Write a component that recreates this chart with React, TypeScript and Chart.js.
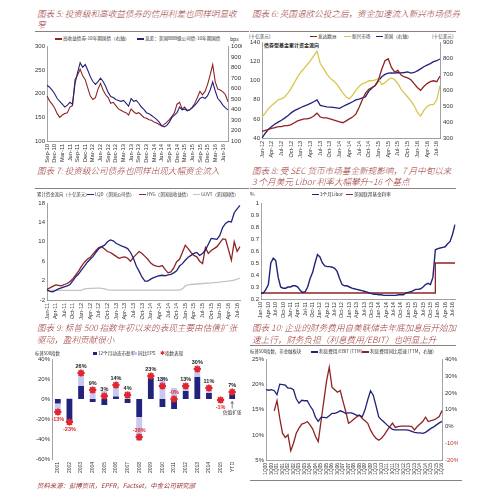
import React, { useEffect, useRef } from 'react';
import { Chart, registerables } from 'chart.js';

Chart.register(...registerables);

// ---------------- label helpers ----------------
const MONTHS = ['Jan', 'Feb', 'Mar', 'Apr', 'May', 'Jun', 'Jul', 'Aug', 'Sep', 'Oct', 'Nov', 'Dec'];
function monthLabels(y0: number, m0: number, n: number): string[] {
  const out: string[] = [];
  for (let i = 0; i < n; i++) {
    const m = m0 + i;
    const y = y0 + Math.floor(m / 12);
    out.push(`${MONTHS[m % 12]}-${String(y % 100).padStart(2, '0')}`);
  }
  return out;
}
function quarterLabels(y0: number, n: number): string[] {
  const out: string[] = [];
  for (let i = 0; i < n; i++) {
    const y = y0 + Math.floor(i / 4);
    out.push(`${(i % 4) + 1}Q${String(y % 100).padStart(2, '0')}`);
  }
  return out;
}

// ---------------- Chart 5 data ----------------
const c5Labels = monthLabels(2010, 8, 72);
const c5BBB = [
  218, 214, 208, 200,
  190, 184, 178, 172, 176, 182, 178, 222, 245, 266, 256, 262,
  250, 236, 226, 220, 226, 233, 226, 216, 203, 194, 192, 188,
  186, 184, 186, 180, 174, 190, 184, 186, 180, 172, 167, 160,
  158, 154, 150, 146, 140, 132, 130, 133, 140, 150, 155, 160,
  172, 166, 168, 164, 166, 170, 176, 182, 190, 193, 190, 196,
  208, 225, 206, 190, 184, 176, 170, 166,
];
const c5HY = [
  528, 483, 451, 415,
  361, 325, 348, 361, 370, 424, 438, 685, 730, 784, 721, 685,
  604, 528, 496, 514, 595, 649, 586, 541, 514, 460, 469, 438,
  406, 393, 379, 370, 348, 406, 379, 361, 370, 348, 325, 316,
  303, 298, 280, 271, 258, 244, 258, 280, 303, 334, 370, 451,
  469, 406, 424, 393, 397, 424, 460, 514, 573, 541, 573, 640,
  730, 829, 663, 595, 586, 568, 541, 474,
];

// ---------------- Chart 6 data ----------------
const c6Labels = monthLabels(2012, 0, 56);
const c6Europe = [
  47, 48, 49, 50, 51, 52, 52, 53, 53, 54, 56, 58,
  59, 60, 60, 61, 63, 66, 62, 61, 61, 60, 59, 58,
  57, 56, 58, 60, 62, 65, 72, 80, 87, 91, 93, 95,
  101, 112, 121, 123, 114, 109, 111, 106, 104, 103, 101, 97,
  93, 90, 94, 97, 99, 100, 99, 105,
];
const c6EM = [
  62, 66, 71, 74, 77, 80, 81, 83, 87, 92, 98, 104,
  109, 113, 117, 121, 126, 131, 118, 113, 107, 103, 100, 97,
  92, 87, 83, 81, 85, 90, 94, 97, 98, 100, 100, 101,
  102, 96, 98, 101, 103, 101, 97, 91, 87, 83, 79, 74,
  67, 63, 69, 73, 75, 75, 80, 95,
];
const c6US = [
  300, 330, 355, 372, 388, 400, 412, 425, 440, 458, 472, 482,
  492, 500, 508, 518, 528, 540, 505, 500, 496, 494, 492, 490,
  486, 498, 508, 518, 528, 540, 545, 552, 560, 595, 615, 632,
  660, 685, 700, 708, 710, 708, 712, 710, 712, 716, 708, 712,
  722, 735, 748, 758, 768, 780, 786, 797,
];

// ---------------- Chart 7 data ----------------
const c7Labels = monthLabels(2011, 0, 68);
const c7LQD = [
  0.1, -0.2, -0.3, 0.0, 0.3, 0.5, 0.7, 0.9, 1.2, 2.0, 2.8, 3.4,
  4.2, 5.0, 5.8, 6.4, 7.0, 7.8, 8.6, 9.0, 9.3, 10.0, 10.4, 10.2,
  9.7, 9.4, 9.1, 8.9, 8.6, 7.8, 6.6, 5.0, 3.9, 2.7, 1.9, 1.9,
  2.3, 2.6, 2.8, 3.0, 3.1, 3.0, 3.2, 3.3, 3.6, 4.0, 5.0, 5.5,
  6.2, 6.8, 7.2, 7.6, 7.8, 7.2, 7.6, 8.3, 9.5, 10.7, 10.6, 10.5,
  11.3, 13.0, 13.8, 14.2, 14.1, 16.0, 16.8, 17.5,
];
const c7HYG = [
  0.2, 0.5, 0.8, 1.1, 1.0, 0.9, 1.2, 1.4, 1.8, 2.4, 3.2, 4.0,
  5.0, 5.8, 6.4, 6.8, 7.5, 8.2, 8.8, 9.0, 8.5, 8.0, 7.8, 7.4,
  7.0, 6.6, 6.8, 6.9, 6.6, 6.0, 6.8, 7.4, 8.0, 7.6, 7.0, 6.4,
  5.6, 5.2, 5.0, 4.9, 5.1, 4.3, 3.6, 3.8, 4.6, 5.9, 6.4, 7.8,
  9.3, 8.6, 7.8, 7.2, 6.9, 6.0, 5.5, 8.8, 7.6, 8.2, 8.6, 9.0,
  9.8, 10.6, 10.5, 8.4, 6.2, 10.0, 8.0, 9.0,
];
const c7GOVT = [
  0, 0, 0, 0, 0, 0, 0, 0, 0, 0, 0, 0,
  0, 0.3, 0.35, 0.4, 0.4, 0.45, 0.45, 0.4, 0.3, 0.1, 0.05, 0.05,
  0.05, 0.05, 0.05, 0.05, 0.05, 0.05, 0.05, 0.05, 0.05, 0.05, 0.05, 0.05,
  0.05, 0.05, 0.05, 0.05, 0.05, 0.05, 0.05, 0.05, 0.05, 0.05, 0.05, 0.3,
  0.9, 1.1, 1.2, 1.25, 1.3, 1.35, 1.4, 1.45, 1.5, 1.55, 1.6, 1.65,
  1.7, 1.8, 1.85, 1.9, 2.0, 2.1, 2.3, 2.5,
];

// ---------------- Chart 8 data ----------------
const c8Labels = monthLabels(2010, 0, 80);
const c8Libor = [
  0.25, 0.25, 0.28, 0.32, 0.50, 0.54, 0.52, 0.38, 0.30, 0.29, 0.29, 0.30,
  0.30, 0.31, 0.31, 0.30, 0.27, 0.255, 0.26, 0.30, 0.37, 0.42, 0.50, 0.57,
  0.55, 0.50, 0.475, 0.47, 0.47, 0.465, 0.455, 0.43, 0.37, 0.32, 0.31, 0.31,
  0.30, 0.29, 0.285, 0.28, 0.275, 0.27, 0.265, 0.26, 0.25, 0.245, 0.24, 0.24,
  0.235, 0.235, 0.23, 0.23, 0.23, 0.23, 0.23, 0.23, 0.235, 0.235, 0.235, 0.25,
  0.255, 0.26, 0.27, 0.28, 0.28, 0.285, 0.30, 0.32, 0.33, 0.32, 0.38, 0.61,
  0.62, 0.625, 0.63, 0.635, 0.66, 0.68, 0.74, 0.82,
];
const c8FedFunds = [
  0.25, 0.25, 0.25, 0.25, 0.25, 0.25, 0.25, 0.25, 0.25, 0.25, 0.25, 0.25,
  0.25, 0.25, 0.25, 0.25, 0.25, 0.25, 0.25, 0.25, 0.25, 0.25, 0.25, 0.25,
  0.25, 0.25, 0.25, 0.25, 0.25, 0.25, 0.25, 0.25, 0.25, 0.25, 0.25, 0.25,
  0.25, 0.25, 0.25, 0.25, 0.25, 0.25, 0.25, 0.25, 0.25, 0.25, 0.25, 0.25,
  0.25, 0.25, 0.25, 0.25, 0.25, 0.25, 0.25, 0.25, 0.25, 0.25, 0.25, 0.25,
  0.25, 0.25, 0.25, 0.25, 0.25, 0.25, 0.25, 0.25, 0.25, 0.25, 0.25, 0.5,
  0.5, 0.5, 0.5, 0.5, 0.5, 0.5, 0.5, 0.5,
];

// ---------------- Chart 9 data ----------------
const c9Years = ['2001', '2002', '2003', '2004', '2005', '2006', '2007', '2008', '2009', '2010', '2011', '2012', '2013', '2014', '2015', 'YTD'];
const c9PE = [-4.5, -22.5, 13, -3, -6, 2.5, -4, -18, 21, -8, -10, 8, 22, 6, -1, 5];
const c9EPS = [-8, 1, 13, 12, 8, 11, 7.5, -24, 2, 22, 11, 4, 5, 3, 0, 2];
const c9Index = [-13, -23, 26, 9, 3, 14, 4, -38, 23, 13, 0, 13, 30, 11, -1, 7];
const c9IndexLabels = ['-13%', '-23%', '26%', '9%', '3%', '14%', '4%', '-38%', '23%', '13%', '-0%', '13%', '30%', '11%', '-1%', '7%'];
const c9LabelAbove = [false, false, true, true, true, true, true, true, true, true, true, true, true, true, false, true];

// ---------------- Chart 10 data ----------------
const c10Labels = quarterLabels(2000, 65);
const c10InterestEBIT = [
  19.0, 18.9, 19.0, 18.8, 18.0, 20.1, 20.0, 19.9,
  19.3, 19.3, 19.0, 17.2, 16.3, 16.9, 16.8, 16.8,
  15.8, 15.0, 13.5, 12.7, 13.5, 13.5, 13.4, 13.8,
  14.3, 14.3, 14.5, 14.8, 14.6, 14.3, 14.4, 14.4,
  14.2, 13.9, 13.9, 13.6, 15.0, 17.0, 18.8, 17.9,
  15.8, 13.6, 13.0, 12.5, 12.0, 11.5, 11.1, 11.0,
  11.0, 11.0, 11.0, 11.0, 10.9, 10.7, 10.5, 10.4,
  10.4, 10.3, 10.5, 10.9, 11.3, 11.6, 12.0, 12.4,
  12.7,
];
const c10InterestGrowth = [
  null, null, null, 9.4, 15.5, 5, -4, -6.5,
  -5, -14.5, -10, -4, -1, 1.5, 2, 3,
  1, -1.5, -6, -9, 3, 15, 27, 35.5,
  23.5, 22, 20.5, 21.5, 15, 9, 2, 3,
  4.5, 5.8, 6.8, 4.8, 3.5, 1.9, -2, -5,
  -7, -8.2, -7, -5, -2.5, 0, 2, -0.5,
  0, 0.2, 0.2, 0.2, 0.2, 0, -2, 0,
  1.5, 3, 5.6, 3, 3.5, 4, 4.8, 6,
  9.5,
];

// ---------------- styling ----------------
const FONT = '"Liberation Sans", Arial, sans-serif';
const CJK = '"Noto Sans CJK SC", "Noto Sans", sans-serif';
const NAVY = '#22237a';
const DARKRED = '#8f2424';
const YELLOW = '#d8c64e';
const GREY = '#c4c4c4';
const LAVENDER = '#c8c8f0';
const BRIGHTRED = '#e0262e';
const TITLE = '#9a3434';
const AXIS = '#8c8c8c';

type Geo = { l: number; t: number; r: number; b: number; lw: number; rw?: number; xh: number; pt?: number; pr?: number };

function geoBox(g: Geo) {
  const pt = g.pt ?? 6;
  const pr = g.rw ? 0 : g.pr ?? 10;
  const left = g.l - g.lw;
  const top = g.t - pt;
  const right = g.r + (g.rw ?? pr);
  const bottom = g.b + g.xh;
  return { left, top, width: right - left, height: bottom - top, padding: { top: pt, right: pr, left: 0, bottom: 0 } };
}

function xAxis(h: number, size: number, every: number, extra: any = {}) {
  return {
    type: 'category',
    offset: false,
    grid: { display: false, drawTicks: false },
    border: { display: true, color: AXIS, width: 0.8 },
    ticks: {
      autoSkip: false,
      minRotation: 90,
      maxRotation: 90,
      padding: 3,
      color: '#333',
      font: { family: FONT, size },
      callback: function (this: any, v: any, i: number) {
        return i % every === 0 ? this.getLabelForValue(v) : null;
      },
    },
    afterFit: (s: any) => {
      s.height = h;
    },
    ...extra,
  };
}

function yAxis(pos: 'left' | 'right', w: number, min: number, max: number, step: number, fmt?: (v: number) => string, color?: any, size = 6) {
  return {
    type: 'linear',
    position: pos,
    min,
    max,
    grid: { display: false, drawTicks: false },
    border: { display: true, color: AXIS, width: 0.8 },
    ticks: {
      stepSize: step,
      padding: pos === 'left' ? 2 : 3,
      color: color ?? '#333',
      font: { family: FONT, size },
      callback: (v: number) => (fmt ? fmt(v) : String(v)),
    },
    afterFit: (s: any) => {
      s.width = w;
    },
  };
}

function line(data: any[], color: string, yAxisID = 'y', width = 1.1, extra: any = {}) {
  return { type: 'line', data, borderColor: color, backgroundColor: color, borderWidth: width, pointRadius: 0, tension: 0, fill: false, yAxisID, ...extra };
}

function ChartCanvas({ geo, type, data, options, plugins }: { geo: Geo; type: string; data: any; options: any; plugins?: any[] }) {
  const ref = useRef<HTMLCanvasElement>(null);
  const box = geoBox(geo);
  useEffect(() => {
    const ch = new Chart(ref.current as HTMLCanvasElement, {
      type: type as any,
      data,
      options: {
        ...options,
        responsive: false,
        animation: false,
        events: [],
        layout: { padding: box.padding },
        plugins: { legend: { display: false }, tooltip: { enabled: false }, ...(options.plugins || {}) },
      },
      plugins: plugins || [],
    } as any);
    return () => ch.destroy();
  }, []);
  return (
    <canvas
      ref={ref}
      width={box.width}
      height={box.height}
      style={{ position: 'absolute', left: box.left, top: box.top, width: box.width, height: box.height }}
    />
  );
}

// ---------------- HTML text helpers ----------------
function Txt({ x, y, size, color = '#333', children, bold, italic, family = CJK, weight }: any) {
  const style: any = {
    position: 'absolute',
    left: x,
    top: y - size * 0.6,
    fontSize: size,
    lineHeight: `${size * 1.2}px`,
    color,
    whiteSpace: 'nowrap',
    fontFamily: family,
    fontWeight: weight ?? (bold ? 700 : 400),
    fontStyle: italic ? 'italic' : 'normal',
  };
  return <div style={style}>{children}</div>;
}

function LegLine({ x, y, color, text, w = 7, size = 4.6 }: any) {
  return (
    <>
      <div style={{ position: 'absolute', left: x, top: y - 0.7, width: w, height: 1.4, background: color }} />
      <Txt x={x + w + 1} y={y} size={size}>{text}</Txt>
    </>
  );
}

function LegSquare({ x, y, color, text, size = 4.6 }: any) {
  return (
    <>
      <div style={{ position: 'absolute', left: x, top: y - 1.8, width: 3.6, height: 3.6, background: color }} />
      <Txt x={x + 5} y={y} size={size}>{text}</Txt>
    </>
  );
}

function Rule({ x, y, w }: any) {
  return <div style={{ position: 'absolute', left: x, top: y, width: w, height: 1, background: '#8e7f7f' }} />;
}

function Title({ x, y, lines }: { x: number; y: number; lines: string[] }) {
  return (
    <>
      {lines.map((t, i) => (
        <Txt key={i} x={x} y={y + i * 11.6} size={8.6} color={TITLE} italic weight={300}>
          {t}
        </Txt>
      ))}
    </>
  );
}

// ---------------- chart 9 plugin ----------------
const c9Plugin = {
  id: 'c9labels',
  afterDatasetsDraw(chart: any) {
    const ctx = chart.ctx;
    const meta = chart.getDatasetMeta(2);
    ctx.save();
    ctx.font = `bold 5.5px ${FONT}`;
    ctx.textAlign = 'center';
    ctx.textBaseline = 'middle';
    meta.data.forEach((pt: any, i: number) => {
      const lab = c9IndexLabels[i];
      ctx.fillStyle = lab.startsWith('-') ? BRIGHTRED : '#222';
      const y = c9LabelAbove[i] ? pt.y - 7 : pt.y + 7;
      ctx.fillText(lab, pt.x, y);
    });
    const xs = chart.scales.x;
    const ys = chart.scales.y;
    const ax = xs.getPixelForValue(c9Years.length - 1);
    const y0 = ys.getPixelForValue(0);
    ctx.strokeStyle = '#333';
    ctx.lineWidth = 0.6;
    ctx.beginPath();
    ctx.moveTo(ax, y0 + 9.5);
    ctx.lineTo(ax, y0 + 2.5);
    ctx.stroke();
    ctx.beginPath();
    ctx.moveTo(ax - 1.4, y0 + 4.8);
    ctx.lineTo(ax, y0 + 2.5);
    ctx.lineTo(ax + 1.4, y0 + 4.8);
    ctx.stroke();
    ctx.fillStyle = '#222';
    ctx.font = `4.6px ${CJK}`;
    ctx.fillText('估值扩张', ax, y0 + 13);
    ctx.restore();
  },
};

const pct = (v: number) => `${Math.round(v)}%`;

export default function App() {
  return (
    <div style={{ position: 'absolute', left: 0, top: 0, width: 500, height: 498, background: '#fff', overflow: 'hidden' }}>
      {/* ---------- Chart 5 ---------- */}
      <Title x={37} y={12.7} lines={['图表 5: 投资级和高收益债券的信用利差也同样明显收', '窄']} />
      <Rule x={35} y={30.5} w={214} />
      <LegLine x={55} y={39} color={DARKRED} text="高收益债券-10年期国债（右轴）" />
      <LegLine x={137} y={39} color={NAVY} text="息差：美国BBB级公司债-10年期国债" />
      <Txt x={230} y={38.5} size={5}>bps</Txt>
      <ChartCanvas
        geo={{ l: 47, t: 46, r: 228, b: 141, lw: 12, rw: 14, xh: 24 }}
        type="line"
        data={{
          labels: c5Labels,
          datasets: [line(c5BBB, NAVY, 'y', 1.1), line(c5HY, DARKRED, 'y1', 1.1)],
        }}
        options={{
          scales: {
            x: xAxis(24, 5.8, 3),
            y: yAxis('left', 12, 100, 300, 50),
            y1: yAxis('right', 14, 100, 1000, 100),
          },
        }}
      />

      {/* ---------- Chart 6 ---------- */}
      <Title x={252} y={12.7} lines={['图表 6: 英国退欧公投之后，资金加速流入新兴市场债券']} />
      <Rule x={250} y={30.5} w={206} />
      <Txt x={249} y={36.7} size={4.6}>(十亿美元)</Txt>
      <LegLine x={310} y={36.7} color={DARKRED} text="发达欧洲" />
      <LegLine x={344} y={36.7} color={YELLOW} text="新兴市场" />
      <LegLine x={376} y={36.7} color={NAVY} text="美国（右轴）" />
      <Txt x={432} y={36.7} size={4.6}>(十亿美元)</Txt>
      <Txt x={264} y={45} size={5} bold color="#222">债券型基金累计资金流向</Txt>
      <ChartCanvas
        geo={{ l: 262, t: 42, r: 440, b: 138, lw: 13, rw: 16, xh: 22 }}
        type="line"
        data={{
          labels: c6Labels,
          datasets: [line(c6Europe, DARKRED, 'y', 1.3), line(c6EM, YELLOW, 'y', 1.3), line(c6US, NAVY, 'y1', 1.3)],
        }}
        options={{
          scales: {
            x: xAxis(22, 5.5, 3),
            y: yAxis('left', 13, 40, 140, 20),
            y1: yAxis('right', 16, 300, 900, 100),
          },
        }}
      />

      {/* ---------- Chart 7 ---------- */}
      <Title x={37} y={170} lines={['图表 7: 投资级公司债券也同样出现大幅资金流入']} />
      <Rule x={35} y={187.5} w={214} />
      <Txt x={37} y={194.3} size={4.4}>累计资金流向（十亿美元）</Txt>
      <LegLine x={87} y={194.3} color={NAVY} text="LQD（美国公司债）" size={4.4} />
      <LegLine x={139} y={194.3} color={DARKRED} text="HYG（美国高收益债）" size={4.4} />
      <LegLine x={193} y={194.3} color={GREY} text="GOVT（美国国债）" size={4.4} />
      <ChartCanvas
        geo={{ l: 47, t: 203, r: 240, b: 300, lw: 12, xh: 22 }}
        type="line"
        data={{
          labels: c7Labels,
          datasets: [line(c7LQD, NAVY, 'y', 1.3), line(c7HYG, DARKRED, 'y', 1.3), line(c7GOVT, GREY, 'y', 1.3)],
        }}
        options={{
          scales: {
            x: xAxis(22, 5.5, 3),
            y: yAxis('left', 12, -2, 18, 2),
          },
        }}
      />

      {/* ---------- Chart 8 ---------- */}
      <Title x={252} y={170} lines={['图表 8: 受 SEC 货币市场基金新规影响，7 月中旬以来', '3 个月美元 Libor 利率大幅攀升~16 个基点']} />
      <Rule x={250} y={187.5} w={206} />
      <Txt x={250} y={193.5} size={5}>%</Txt>
      <LegLine x={312} y={194.3} color={NAVY} text="3个月Libor" />
      <LegLine x={346} y={194.3} color={DARKRED} text="美国联邦基金利率" />
      <ChartCanvas
        geo={{ l: 261, t: 203, r: 455, b: 299, lw: 12, xh: 24 }}
        type="line"
        data={{
          labels: c8Labels,
          datasets: [line(c8Libor, NAVY, 'y', 1.4), line(c8FedFunds, DARKRED, 'y', 1.3, { stepped: true })],
        }}
        options={{
          scales: {
            x: xAxis(24, 5.3, 3),
            y: yAxis('left', 12, 0.2, 1, 0.1, (v: number) => (Math.abs(v - 1) < 1e-6 ? '1' : v.toFixed(1))),
          },
        }}
      />

      {/* ---------- Chart 9 ---------- */}
      <Title x={37} y={327.3} lines={['图表 9: 标普 500 指数年初以来的表现主要由估值扩张', '驱动，盈利贡献很小']} />
      <Txt x={35} y={353.5} size={4.4}>标普500指数</Txt>
      <LegSquare x={93} y={353.5} color={NAVY} text="12个月动态市盈率" />
      <LegSquare x={133} y={353.5} color={LAVENDER} text="同比EPS" />
      <Txt x={159.5} y={353.5} size={5.5} color={BRIGHTRED}>✱</Txt>
      <Txt x={165} y={353.5} size={4.6}>指数表现</Txt>
      <ChartCanvas
        geo={{ l: 52, t: 359, r: 238, b: 459, lw: 16, xh: 22 }}
        type="bar"
        data={{
          labels: c9Years,
          datasets: [
            { type: 'bar', data: c9PE, backgroundColor: NAVY, stack: 'bars', barPercentage: 0.5, categoryPercentage: 1, order: 2 },
            { type: 'bar', data: c9EPS, backgroundColor: LAVENDER, stack: 'bars', barPercentage: 0.5, categoryPercentage: 1, order: 3 },
            { type: 'line', data: c9Index, stack: 'idxStar', showLine: false, pointStyle: 'star', pointRadius: 3.6, pointBorderWidth: 1.8, borderColor: BRIGHTRED, backgroundColor: BRIGHTRED, order: 0 },
            { type: 'line', data: c9Index, stack: 'idxDot', showLine: false, pointStyle: 'circle', pointRadius: 2.2, pointBorderWidth: 0, borderColor: BRIGHTRED, backgroundColor: BRIGHTRED, order: 1 },
          ],
        }}
        options={{
          scales: {
            x: xAxis(22, 5, 1, { offset: true, stacked: true, border: { display: false } }),
            y: { ...yAxis('left', 16, -60, 40, 20, pct), stacked: true },
          },
        }}
        plugins={[c9Plugin]}
      />

      {/* ---------- Chart 10 ---------- */}
      <Title x={252} y={327.3} lines={['图表 10: 企业的财务费用自美联储去年底加息后开始加', '速上行，财务负担（利息费用/EBIT）也明显上升']} />
      <Rule x={250} y={345} w={206} />
      <Txt x={250} y={352} size={4.4}>标普500指数，非金融板块</Txt>
      <LegLine x={311} y={352} color={NAVY} text="利息费用/EBIT (TTM)" />
      <LegLine x={362} y={352} color={DARKRED} text="利息费用同比增速 (TTM，右轴)" />
      <ChartCanvas
        geo={{ l: 266, t: 359, r: 442, b: 460, lw: 17, rw: 16, xh: 18 }}
        type="line"
        data={{
          labels: c10Labels,
          datasets: [line(c10InterestEBIT, NAVY, 'y', 1.3), line(c10InterestGrowth, DARKRED, 'y1', 1.3)],
        }}
        options={{
          scales: {
            x: xAxis(18, 4.8, 2),
            y: yAxis('left', 17, 5, 25, 5, pct),
            y1: yAxis('right', 16, -20, 40, 10, pct, (c: any) => (c.tick && c.tick.value < 0 ? '#c0392b' : '#333')),
          },
        }}
      />
      <Rule x={250} y={480} w={212} />

      {/* ---------- source ---------- */}
      <Txt x={37} y={486} size={6.4} color={TITLE} italic>资料来源：彭博资讯，EPFR，Factset，中金公司研究部</Txt>
    </div>
  );
}
